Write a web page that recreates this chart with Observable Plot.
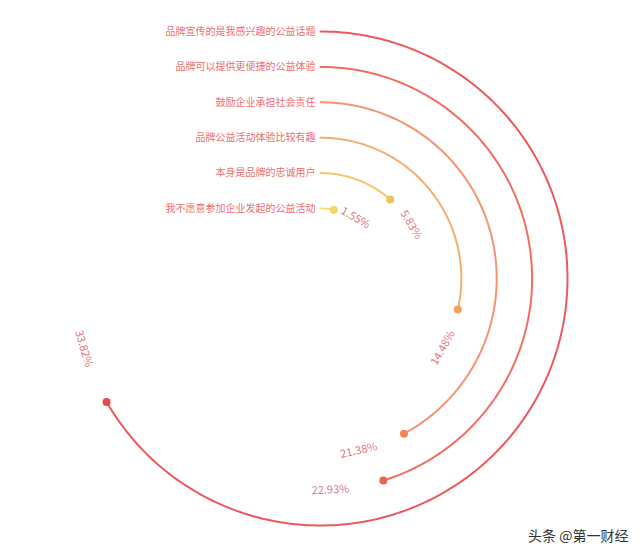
<!DOCTYPE html>
<html>
<head>
<meta charset="utf-8">
<script src="https://cdn.jsdelivr.net/npm/d3@7"></script>
<script src="https://cdn.jsdelivr.net/npm/@observablehq/plot@0.6"></script>
<style>
  html, body { margin: 0; padding: 0; background: #fff; }
  #chart { width: 640px; height: 555px; }
</style>
</head>
<body>
<div id="chart"></div>
<script>
const categories = [
  "品牌宣传的是我感兴趣的公益话题",
  "品牌可以提供更便捷的公益体验",
  "鼓励企业承担社会责任",
  "品牌公益活动体验比较有趣",
  "本身是品牌的忠诚用户",
  "我不愿意参加企业发起的公益活动"
];
const values = [33.82, 22.93, 21.38, 14.48, 5.83, 1.55];

const arcColors = ["#eb5a5e", "#ef6f62", "#f39472", "#f6ae70", "#f5c66c", "#f7dc7c"];
const dotColors = ["#e44a47", "#e8674c", "#ee875a", "#f2a35c", "#edc258", "#f3d867"];
const labelColor = "#ee6e6e";
const pctColor = "#e07480";

const angleMax = d3.max(values) * 1.5;           // full circle corresponds to this value
const radius = d3.scalePoint(categories, [247, 70]);
const toDeg = v => v / angleMax * 360;

// arc geometry sampled along each bar
const arcPts = [];
categories.forEach((c, i) => {
  const r = radius(c), end = toDeg(values[i]);
  const steps = Math.max(2, Math.ceil(end));
  for (let k = 0; k <= steps; k++) {
    const a = (end * k / steps) * Math.PI / 180;
    arcPts.push({c, x: r * Math.sin(a), y: r * Math.cos(a), color: arcColors[i]});
  }
});

const ends = categories.map((c, i) => {
  const r = radius(c), a = toDeg(values[i]) * Math.PI / 180;
  return {c, x: r * Math.sin(a), y: r * Math.cos(a), color: dotColors[i]};
});

const pcts = categories.map((c, i) => {
  const r = radius(c);
  const deg = toDeg(values[i]) + 19 - 5.5 * (r - 70) / 177;
  const a = deg * Math.PI / 180;
  const rot = (deg > 90 && deg < 270) ? deg - 180 : deg;
  return {x: r * Math.sin(a), y: r * Math.cos(a), rot, text: values[i].toFixed(2) + "%"};
});

const starts = categories.map(c => ({c, x: 0, y: radius(c)}));

const chart = Plot.plot({
  width: 640,
  height: 555,
  margin: 0,
  style: {fontFamily: "'Noto Sans CJK SC', 'Noto Sans', sans-serif", background: "#fff"},
  x: {domain: [-320, 320], axis: null},
  y: {domain: [-277, 278], axis: null},
  color: {type: "identity"},
  marks: [
    Plot.line(arcPts, {x: "x", y: "y", z: "c", stroke: "color", strokeWidth: 2, curve: "linear"}),
    Plot.dot(ends, {x: "x", y: "y", r: 4, fill: "color", stroke: "none"}),
    Plot.text(starts, {x: "x", y: "y", text: "c", textAnchor: "end", dx: -5, fill: labelColor, fontSize: 10}),
    Plot.text(pcts, {x: "x", y: "y", text: "text", rotate: "rot", fill: pctColor, fontSize: 11}),
    Plot.text(["头条 @第一财经"], {frameAnchor: "bottom-right", dx: -12, dy: -15, fill: "#333", fontSize: 14})
  ]
});
document.getElementById("chart").appendChild(chart);
</script>
</body>
</html>
